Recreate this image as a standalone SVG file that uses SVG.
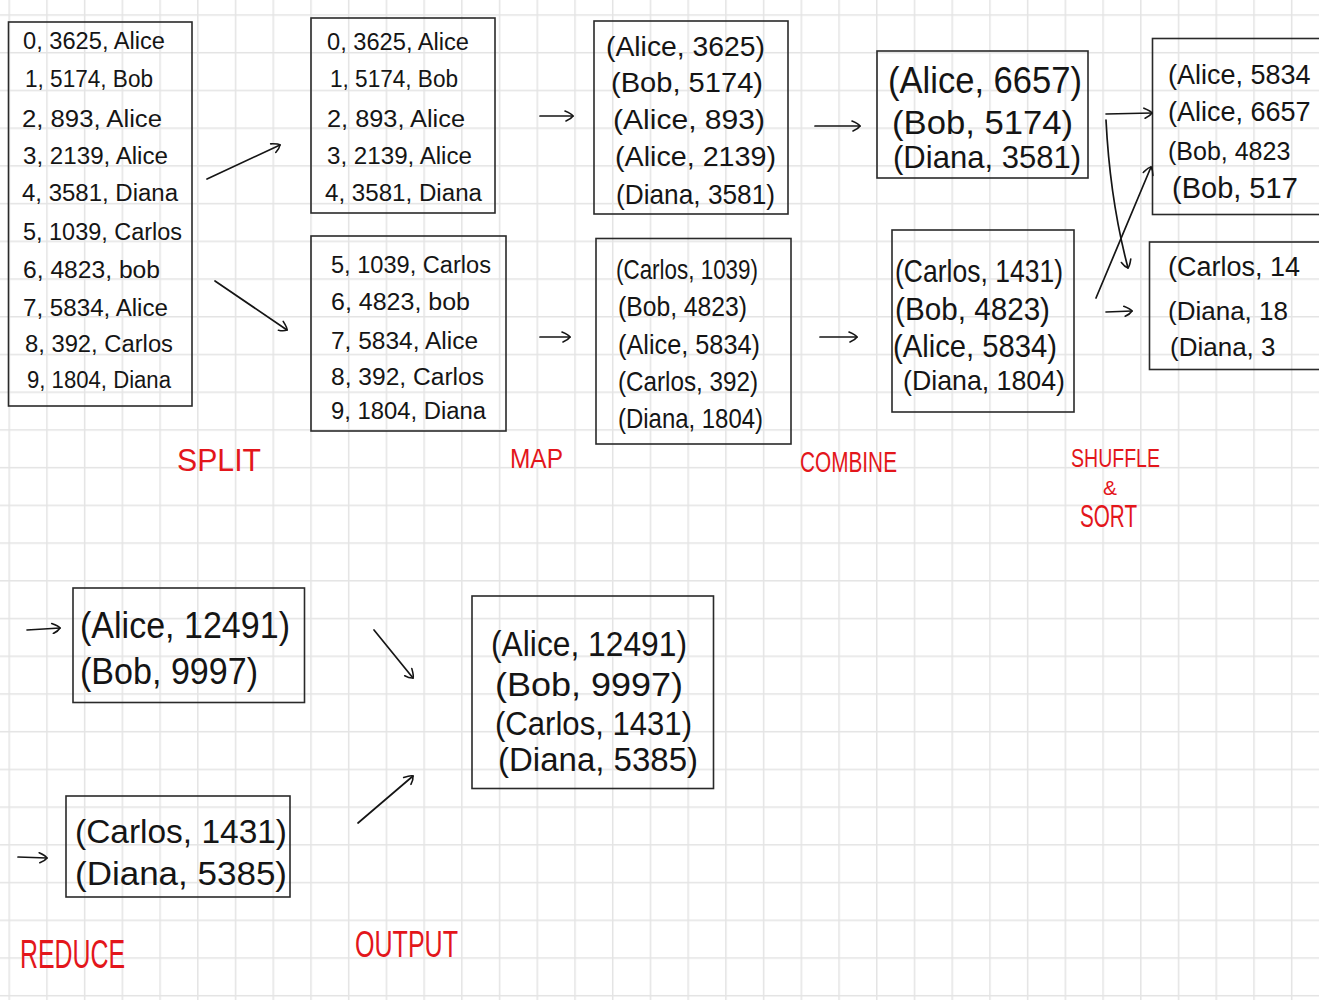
<svg xmlns="http://www.w3.org/2000/svg" width="1319" height="1000" viewBox="0 0 1319 1000">
<style>
  .box { fill: none; stroke: #2a2a2a; stroke-width: 1.6; }
  .t { font-family: "Liberation Sans", Arial, sans-serif; fill: #151515; }
  .s { font-size: 23px; }
  .m { font-size: 28px; }
  .l { font-size: 32px; }
  .lbl { font-family: "Liberation Sans", Arial, sans-serif; fill: #e3161b; font-size: 32px; }
  .c { fill: none; stroke: #151515; stroke-width: 1.7; stroke-linecap: round; }
</style>
<defs>
  <pattern id="grid" patternUnits="userSpaceOnUse" x="8.45" y="14.25" width="37.72" height="37.72">
    <rect x="0" y="0" width="37.72" height="1.5" fill="#e4e4e4"/>
    <rect x="0" y="0" width="1.5" height="37.72" fill="#e4e4e4"/>
  </pattern>
  <marker id="ah" viewBox="0 0 12 12" refX="11" refY="6" markerWidth="12" markerHeight="12" markerUnits="userSpaceOnUse" orient="auto">
    <path d="M3,1 Q10,4 11,6 Q9,9 4,11" fill="none" stroke="#151515" stroke-width="1.6" stroke-linecap="round"/>
  </marker>
</defs>
<rect width="1319" height="1000" fill="#ffffff"/>
<rect width="1319" height="1000" fill="url(#grid)"/>

<g id="input">
  <rect class="box" x="8.5" y="22" width="183.5" height="384"/>
  <text class="t s" x="23" y="49" textLength="142" lengthAdjust="spacingAndGlyphs">0, 3625, Alice</text>
  <text class="t s" x="25" y="87" textLength="128" lengthAdjust="spacingAndGlyphs">1, 5174, Bob</text>
  <text class="t s" x="22" y="127" textLength="140" lengthAdjust="spacingAndGlyphs">2, 893, Alice</text>
  <text class="t s" x="23" y="164" textLength="145" lengthAdjust="spacingAndGlyphs">3, 2139, Alice</text>
  <text class="t s" x="22" y="201" textLength="156" lengthAdjust="spacingAndGlyphs">4, 3581, Diana</text>
  <text class="t s" x="23" y="240" textLength="159" lengthAdjust="spacingAndGlyphs">5, 1039, Carlos</text>
  <text class="t s" x="23" y="278" textLength="137" lengthAdjust="spacingAndGlyphs">6, 4823, bob</text>
  <text class="t s" x="23" y="316" textLength="145" lengthAdjust="spacingAndGlyphs">7, 5834, Alice</text>
  <text class="t s" x="25" y="352" textLength="148" lengthAdjust="spacingAndGlyphs">8, 392, Carlos</text>
  <text class="t s" x="27" y="388" textLength="144" lengthAdjust="spacingAndGlyphs">9, 1804, Diana</text>
</g>

<g id="split-1">
  <rect class="box" x="311" y="18" width="184" height="195"/>
  <text class="t s" x="327" y="50" textLength="142" lengthAdjust="spacingAndGlyphs">0, 3625, Alice</text>
  <text class="t s" x="330" y="87" textLength="128" lengthAdjust="spacingAndGlyphs">1, 5174, Bob</text>
  <text class="t s" x="327" y="127" textLength="138" lengthAdjust="spacingAndGlyphs">2, 893, Alice</text>
  <text class="t s" x="327" y="164" textLength="145" lengthAdjust="spacingAndGlyphs">3, 2139, Alice</text>
  <text class="t s" x="325" y="201" textLength="157" lengthAdjust="spacingAndGlyphs">4, 3581, Diana</text>
</g>

<g id="split-2">
  <rect class="box" x="311" y="236" width="195" height="195"/>
  <text class="t s" x="331" y="273" textLength="160" lengthAdjust="spacingAndGlyphs">5, 1039, Carlos</text>
  <text class="t s" x="331" y="310" textLength="139" lengthAdjust="spacingAndGlyphs">6, 4823, bob</text>
  <text class="t s" x="331" y="349" textLength="147" lengthAdjust="spacingAndGlyphs">7, 5834, Alice</text>
  <text class="t s" x="331" y="385" textLength="153" lengthAdjust="spacingAndGlyphs">8, 392, Carlos</text>
  <text class="t s" x="331" y="419" textLength="155" lengthAdjust="spacingAndGlyphs">9, 1804, Diana</text>
</g>

<g id="map-1">
  <rect class="box" x="594" y="21" width="194" height="193"/>
  <text class="t m" x="606" y="56" textLength="159" lengthAdjust="spacingAndGlyphs">(Alice, 3625)</text>
  <text class="t m" x="611" y="92" textLength="152" lengthAdjust="spacingAndGlyphs">(Bob, 5174)</text>
  <text class="t m" x="613" y="129" textLength="152" lengthAdjust="spacingAndGlyphs">(Alice, 893)</text>
  <text class="t m" x="615" y="166" textLength="161" lengthAdjust="spacingAndGlyphs">(Alice, 2139)</text>
  <text class="t m" x="616" y="204" textLength="159" lengthAdjust="spacingAndGlyphs">(Diana, 3581)</text>
</g>

<g id="map-2">
  <rect class="box" x="596" y="238.5" width="195" height="205.5"/>
  <text class="t m" x="616" y="279" textLength="142" lengthAdjust="spacingAndGlyphs">(Carlos, 1039)</text>
  <text class="t m" x="618" y="316" textLength="129" lengthAdjust="spacingAndGlyphs">(Bob, 4823)</text>
  <text class="t m" x="618" y="354" textLength="142" lengthAdjust="spacingAndGlyphs">(Alice, 5834)</text>
  <text class="t m" x="618" y="391" textLength="140" lengthAdjust="spacingAndGlyphs">(Carlos, 392)</text>
  <text class="t m" x="618" y="428" textLength="145" lengthAdjust="spacingAndGlyphs">(Diana, 1804)</text>
</g>

<g id="combine-1">
  <rect class="box" x="877" y="51" width="211" height="127"/>
  <text class="t" style="font-size:36px" x="888" y="93" textLength="194" lengthAdjust="spacingAndGlyphs">(Alice, 6657)</text>
  <text class="t" style="font-size:34px" x="892" y="134" textLength="181" lengthAdjust="spacingAndGlyphs">(Bob, 5174)</text>
  <text class="t l" x="893" y="168" textLength="188" lengthAdjust="spacingAndGlyphs">(Diana, 3581)</text>
</g>

<g id="combine-2">
  <rect class="box" x="892" y="230" width="182" height="182"/>
  <text class="t l" x="895" y="282" textLength="168" lengthAdjust="spacingAndGlyphs">(Carlos, 1431)</text>
  <text class="t l" x="895" y="320" textLength="155" lengthAdjust="spacingAndGlyphs">(Bob, 4823)</text>
  <text class="t l" x="893" y="357" textLength="164" lengthAdjust="spacingAndGlyphs">(Alice, 5834)</text>
  <text class="t m" x="903" y="390" textLength="162" lengthAdjust="spacingAndGlyphs">(Diana, 1804)</text>
</g>

<g id="shuffle-1">
  <rect class="box" x="1152.5" y="38.5" width="170" height="176"/>
  <text class="t" style="font-size:27px" x="1168" y="84">(Alice, 5834</text>
  <text class="t" style="font-size:27px" x="1168" y="121">(Alice, 6657</text>
  <text class="t" style="font-size:25px" x="1168" y="160">(Bob, 4823</text>
  <text class="t" style="font-size:29px" x="1172" y="198">(Bob, 517</text>
</g>

<g id="shuffle-2">
  <rect class="box" x="1149.5" y="242" width="173" height="127.5"/>
  <text class="t" style="font-size:27px" x="1168" y="276">(Carlos, 14</text>
  <text class="t" style="font-size:26px" x="1168" y="320">(Diana, 18</text>
  <text class="t" style="font-size:26px" x="1170" y="356">(Diana, 3</text>
</g>

<g id="reduce-1">
  <rect class="box" x="73" y="588" width="231.5" height="114.5"/>
  <text class="t" style="font-size:36px" x="80" y="638" textLength="210" lengthAdjust="spacingAndGlyphs">(Alice, 12491)</text>
  <text class="t" style="font-size:36px" x="80" y="684" textLength="178" lengthAdjust="spacingAndGlyphs">(Bob, 9997)</text>
</g>

<g id="reduce-2">
  <rect class="box" x="66" y="796" width="224" height="101"/>
  <text class="t" style="font-size:34px" x="75" y="843" textLength="212" lengthAdjust="spacingAndGlyphs">(Carlos, 1431)</text>
  <text class="t" style="font-size:34px" x="75" y="885" textLength="212" lengthAdjust="spacingAndGlyphs">(Diana, 5385)</text>
</g>

<g id="output">
  <rect class="box" x="472" y="596" width="241.5" height="192.5"/>
  <text class="t" style="font-size:35px" x="491" y="656" textLength="196" lengthAdjust="spacingAndGlyphs">(Alice, 12491)</text>
  <text class="t" style="font-size:34px" x="495" y="696" textLength="188" lengthAdjust="spacingAndGlyphs">(Bob, 9997)</text>
  <text class="t" style="font-size:34px" x="495" y="735" textLength="197" lengthAdjust="spacingAndGlyphs">(Carlos, 1431)</text>
  <text class="t" style="font-size:34px" x="498" y="771" textLength="200" lengthAdjust="spacingAndGlyphs">(Diana, 5385)</text>
</g>

<g id="connectors">
  <path class="c" d="M207,179 L280,145" marker-end="url(#ah)"/>
  <path class="c" d="M215,281 L287,330" marker-end="url(#ah)"/>
  <path class="c" d="M540,116 L573,116" marker-end="url(#ah)"/>
  <path class="c" d="M540,337 L570,337" marker-end="url(#ah)"/>
  <path class="c" d="M815,126 L860,126" marker-end="url(#ah)"/>
  <path class="c" d="M820,337 L857,337" marker-end="url(#ah)"/>
  <path class="c" d="M1106,114 L1152,113" marker-end="url(#ah)"/>
  <path class="c" d="M1106,120 Q1110,200 1128,268" marker-end="url(#ah)"/>
  <path class="c" d="M1096,298 L1151,167" marker-end="url(#ah)"/>
  <path class="c" d="M1106,312 L1132,311" marker-end="url(#ah)"/>
  <path class="c" d="M27,630 L60,628" marker-end="url(#ah)"/>
  <path class="c" d="M18,857 L47,858" marker-end="url(#ah)"/>
  <path class="c" d="M374,630 L413,678" marker-end="url(#ah)"/>
  <path class="c" d="M358,823 L413,776" marker-end="url(#ah)"/>
</g>

<g id="labels">
  <text class="lbl" x="177" y="471" textLength="84" lengthAdjust="spacingAndGlyphs">SPLIT</text>
  <text class="lbl" style="font-size:28px" x="510" y="468" textLength="53" lengthAdjust="spacingAndGlyphs">MAP</text>
  <text class="lbl" style="font-size:30px" x="800" y="472" textLength="97" lengthAdjust="spacingAndGlyphs">COMBINE</text>
  <text class="lbl" style="font-size:26px" x="1071" y="467" textLength="89" lengthAdjust="spacingAndGlyphs">SHUFFLE</text>
  <text class="lbl" style="font-size:20px" x="1103" y="495" textLength="14" lengthAdjust="spacingAndGlyphs">&amp;</text>
  <text class="lbl" style="font-size:32px" x="1080" y="527" textLength="57" lengthAdjust="spacingAndGlyphs">SORT</text>
  <text class="lbl" style="font-size:40px" x="20" y="968" textLength="105" lengthAdjust="spacingAndGlyphs">REDUCE</text>
  <text class="lbl" style="font-size:36px" x="355" y="957" textLength="103" lengthAdjust="spacingAndGlyphs">OUTPUT</text>
</g>
</svg>
